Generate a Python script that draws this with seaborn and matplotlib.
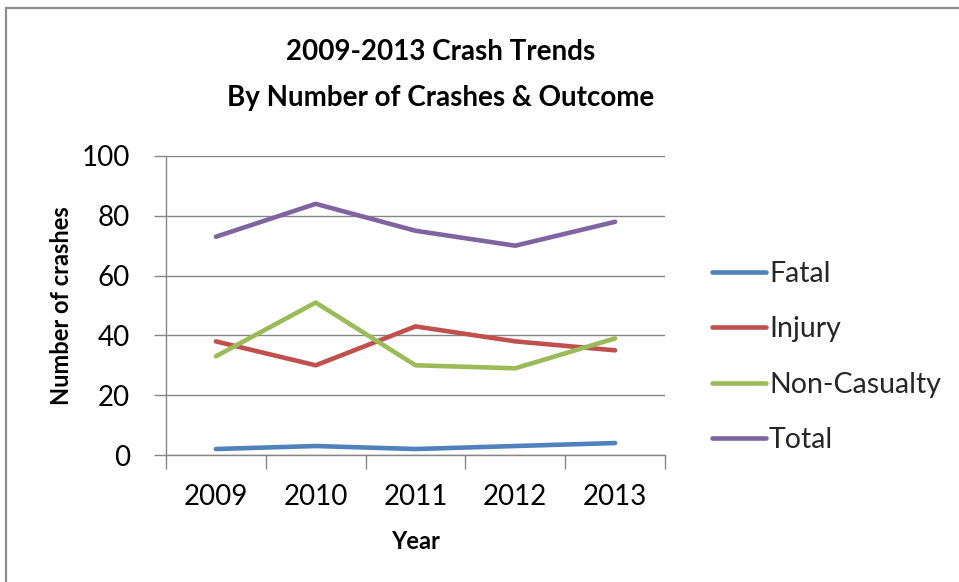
import matplotlib
matplotlib.use("Agg")
import matplotlib.pyplot as plt
from matplotlib.patches import Rectangle
from matplotlib.ticker import FixedLocator, NullFormatter
import pandas as pd
import seaborn as sns

# Crash counts per year by outcome
years = ["2009", "2010", "2011", "2012", "2013"]
fatal = [2, 3, 2, 3, 4]
injury = [38, 30, 43, 38, 35]
non_casualty = [33, 51, 30, 29, 39]
total = [73, 84, 75, 70, 78]

outcomes = ["Fatal", "Injury", "Non-Casualty", "Total"]
colors = ["#4F81BD", "#C0504D", "#9BBB59", "#8064A2"]
y_ticks = [0, 20, 40, 60, 80, 100]

series = dict(zip(outcomes, [fatal, injury, non_casualty, total]))
df = pd.DataFrame(
    [(y, name, v) for name, vals in series.items() for y, v in zip(years, vals)],
    columns=["Year", "Outcome", "Crashes"],
)

sns.set_theme(style="white")
plt.rcParams["font.family"] = ["Lato", "DejaVu Sans"]

W, H = 959, 582
fig = plt.figure(figsize=(W / 100, H / 100), dpi=100)
ax = fig.add_axes([166 / W, 1 - 455 / H, (665 - 166) / W, (455 - 156) / H])

sns.lineplot(
    data=df, x="Year", y="Crashes", hue="Outcome",
    hue_order=outcomes, palette=colors, linewidth=3.3,
    ax=ax, legend=True, sort=False,
)
for ln in ax.lines:
    ln.set_solid_capstyle("round")
    ln.set_solid_joinstyle("round")

grid_c = "#868686"
ax.set_xlim(-0.5, len(years) - 0.5)
ax.set_ylim(0, 100)
ax.set_yticks(y_ticks)
ax.yaxis.grid(True, color=grid_c, linewidth=1.0)
ax.set_axisbelow(True)
for s in ("top", "right"):
    ax.spines[s].set_visible(False)
for s in ("left", "bottom"):
    ax.spines[s].set_color(grid_c)
    ax.spines[s].set_linewidth(1.0)

# Category boundaries carry the tick marks; labels sit at category centres
ax.xaxis.set_minor_locator(FixedLocator([i - 0.5 for i in range(len(years) + 1)]))
ax.xaxis.set_minor_formatter(NullFormatter())
ax.tick_params(axis="x", which="minor", bottom=True, length=10, width=1, color=grid_c, direction="out")
ax.tick_params(axis="x", which="major", bottom=False, length=0, pad=21, labelsize=20, labelcolor="black")
ax.tick_params(axis="y", which="major", left=True, length=9, width=1, color=grid_c, direction="out", pad=17,
               labelsize=20, labelcolor="black")

ax.set_xlabel("Year", fontsize=17, fontweight="bold", color="black", labelpad=14)
ax.set_ylabel("Number of crashes", fontsize=17, fontweight="bold", color="black", labelpad=6)

# Legend on the right
handles, labels = ax.get_legend_handles_labels()
ax.get_legend().remove()
fig.legend(
    handles, labels, loc="center left", bbox_to_anchor=(712 / W, 1 - 357 / H),
    frameon=False, fontsize=20.5, handlelength=1.9, handletextpad=0.1,
    labelspacing=1.04, borderpad=0, borderaxespad=0,
)

fig.text(441 / W, 1 - 52 / H, "2009-2013 Crash Trends", ha="center", va="center",
         fontsize=20, fontweight="bold", color="black")
fig.text(441 / W, 1 - 98 / H, "By Number of Crashes & Outcome", ha="center", va="center",
         fontsize=20, fontweight="bold", color="black")

# Chart-area border
fig.patches.append(Rectangle((6 / W, -0.1), 1.1, 1 - 8 / H + 0.1, transform=fig.transFigure,
                             fill=False, edgecolor="#8c8c8c", linewidth=1.6))

fig.savefig("out.png", dpi=100)
